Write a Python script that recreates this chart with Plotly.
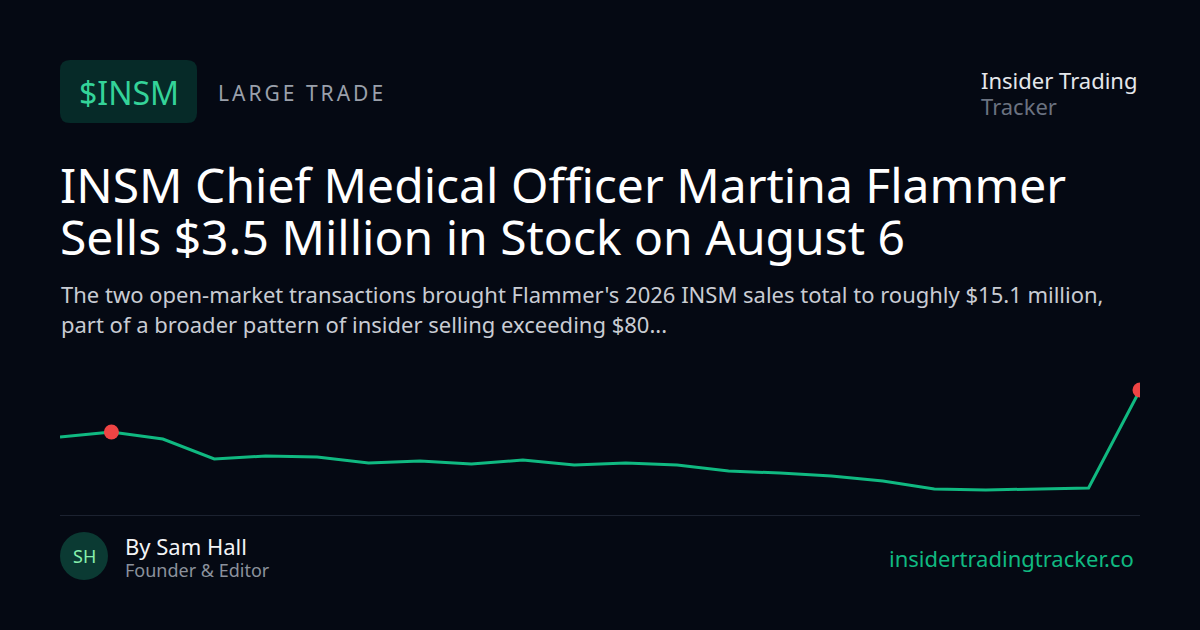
import plotly.graph_objects as go

# ---- data ----
days = list(range(22))
prices = [135.9, 137.4, 135.3, 129.3, 130.2, 129.9, 128.1, 128.7, 127.8, 129.0, 127.5,
          128.1, 127.5, 125.7, 125.1, 124.2, 122.7, 120.3, 120.0, 120.3, 120.6, 150.0]
trade_days = [1, 21]
trade_prices = [prices[i] for i in trade_days]

ticker = "$INSM"
tag = "LARGE TRADE"
brand1, brand2 = "Insider Trading", "Tracker"
title1 = "INSM Chief Medical Officer Martina Flammer"
title2 = "Sells $3.5 Million in Stock on August 6"
sub1 = "The two open-market transactions brought Flammer's 2026 INSM sales total to roughly $15.1 million,"
sub2 = "part of a broader pattern of insider selling exceeding $80..."
author = "By Sam Hall"
role = "Founder & Editor"
initials = "SH"
site = "insidertradingtracker.co"

W, H = 1200, 630
L, R, T, B = 60, 60, 380, 130
PW, PH = W - L - R, H - T - B

BG = "#050913"
GREEN = "#10b981"
FONT = "Noto Sans"


def px(x):
    return (x - L) / PW


def py(y):
    return (H - B - y) / PH


fig = go.Figure()
fig.add_trace(go.Scatter(x=days, y=prices, mode="lines",
                         line=dict(color=GREEN, width=3), hoverinfo="skip",
                         cliponaxis=True))
fig.add_trace(go.Scatter(x=trade_days, y=trade_prices, mode="markers",
                         marker=dict(color="#ef4444", size=15, line=dict(width=0)),
                         hoverinfo="skip", cliponaxis=True))

shapes = []
# rounded badge
x0, x1, y0, y1, r = 60, 197, 60, 123, 10
path = (f"M {px(x0 + r)} {py(y0)} L {px(x1 - r)} {py(y0)} Q {px(x1)} {py(y0)} {px(x1)} {py(y0 + r)} "
        f"L {px(x1)} {py(y1 - r)} Q {px(x1)} {py(y1)} {px(x1 - r)} {py(y1)} "
        f"L {px(x0 + r)} {py(y1)} Q {px(x0)} {py(y1)} {px(x0)} {py(y1 - r)} "
        f"L {px(x0)} {py(y0 + r)} Q {px(x0)} {py(y0)} {px(x0 + r)} {py(y0)} Z")
shapes.append(dict(type="path", xref="paper", yref="paper", path=path,
                   fillcolor="#062a28", line=dict(width=0), layer="below"))
# separator
shapes.append(dict(type="line", xref="paper", yref="paper", x0=px(60), x1=px(1140),
                   y0=py(515.5), y1=py(515.5), line=dict(color="#1c2230", width=1)))
# avatar
shapes.append(dict(type="circle", xref="paper", yref="paper", x0=px(60), x1=px(108),
                   y0=py(580), y1=py(532), fillcolor="#0b3a33", line=dict(width=0)))

ann = []


def add(text, x, y, size, color, xanchor="left"):
    ann.append(dict(text=text, x=px(x), y=py(y), xref="paper", yref="paper",
                    xanchor=xanchor, yanchor="middle", showarrow=False,
                    font=dict(family=FONT, size=size, color=color)))


add(ticker, 128.5, 92, 32, "#34d399", "center")
add(f'<span style="letter-spacing:3px">{tag}</span>', 216, 93, 21, "#9aa0ab")
add(brand1, 979, 80, 22, "#e5e7eb")
add(brand2, 979, 106, 22, "#6b7280")
add(title1, 58, 184, 48, "#ffffff")
add(title2, 58, 237, 48, "#ffffff")
add(sub1, 59, 294, 22, "#c9ccd3")
add(sub2, 59, 324, 22, "#c9ccd3")
add(initials, 84, 556, 18, "#86efac", "center")
add(author, 123, 546, 22, "#f3f4f6")
add(role, 123, 569.5, 18, "#8b919c")
add(site, 1136, 558, 22, GREEN, "right")

fig.update_layout(
    width=W, height=H,
    margin=dict(l=L, r=R, t=T, b=B),
    paper_bgcolor=BG, plot_bgcolor=BG,
    showlegend=False,
    xaxis=dict(range=[0, 21], visible=False, fixedrange=True),
    yaxis=dict(range=[117, 153], visible=False, fixedrange=True),
    shapes=shapes, annotations=ann,
    font=dict(family=FONT),
)

fig.write_html("out.html", config={"displayModeBar": False})

# remove default page margin so the 1200x630 figure fills the window
with open("out.html", encoding="utf-8") as f:
    html = f.read()
html = html.replace("<head>", f"<head><style>html,body{{margin:0;padding:0;background:{BG};overflow:hidden}}</style>", 1)
with open("out.html", "w", encoding="utf-8") as f:
    f.write(html)
